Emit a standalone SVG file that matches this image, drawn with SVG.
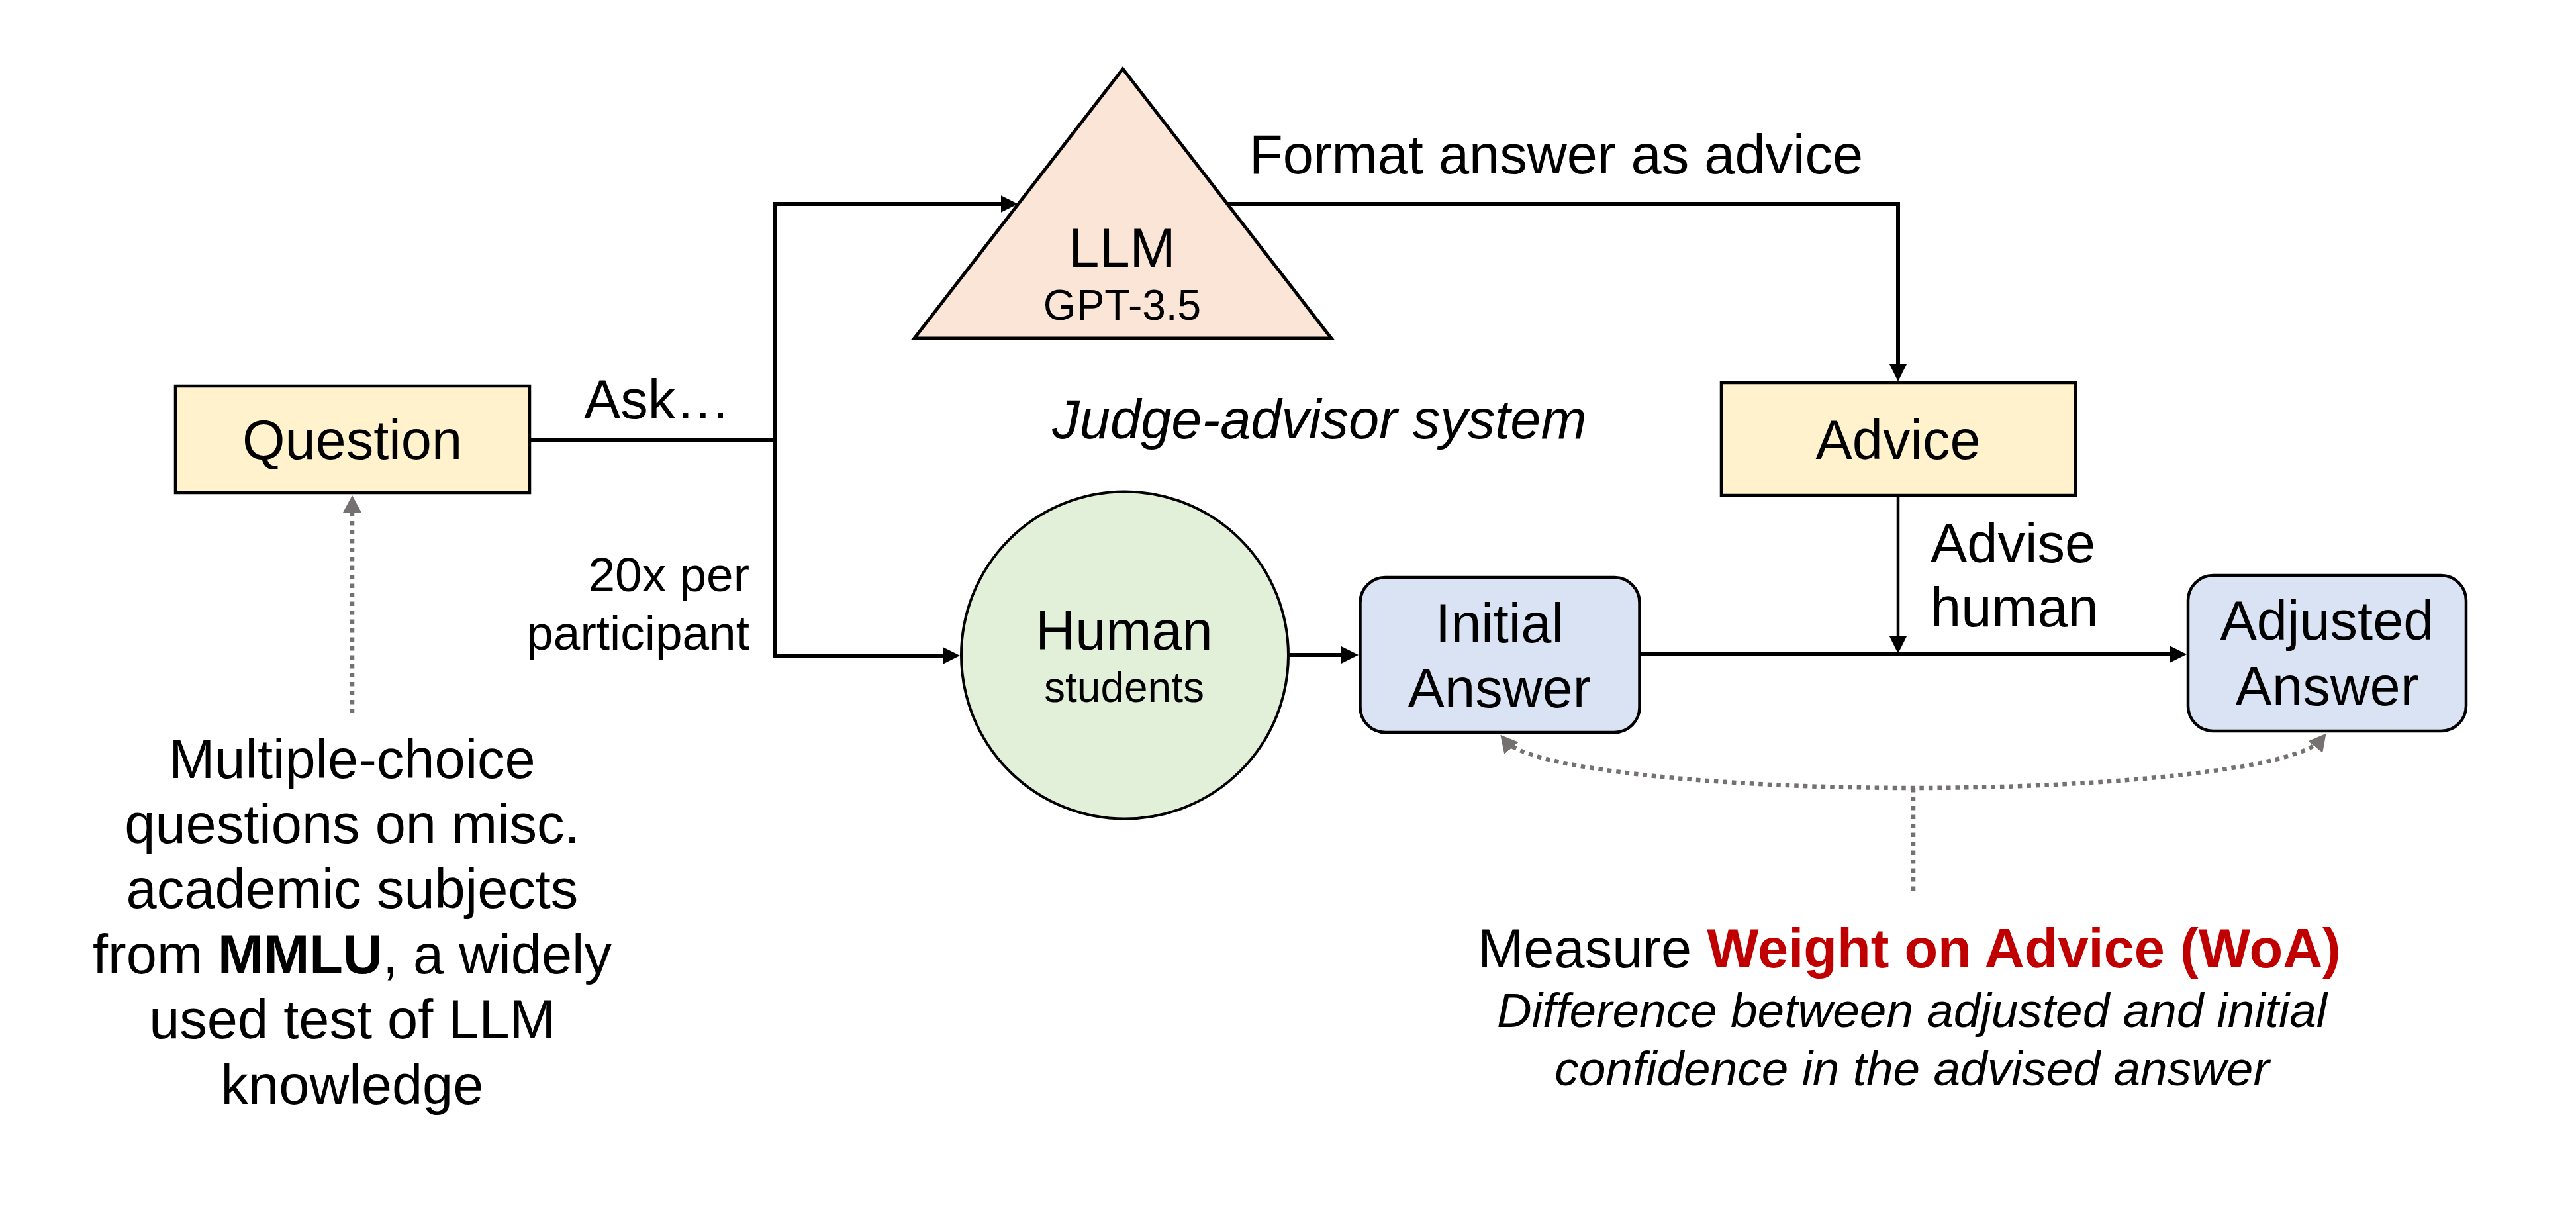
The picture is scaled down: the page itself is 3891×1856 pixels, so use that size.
<svg xmlns="http://www.w3.org/2000/svg" width="3891" height="1856" viewBox="0 0 3891 1856">
<style>
text{font-family:"Liberation Sans",Arial,Helvetica,sans-serif;fill:#000}
.big{font-size:83px}
.mid{font-size:73px}
.sm{font-size:64px}
.c{text-anchor:middle}
.e{text-anchor:end}
.it{font-style:italic}
.b{font-weight:bold}
.red{fill:#C00000}
.box{fill:#FFF2CC;stroke:#000;stroke-width:4.5}
.rbox{fill:#DAE3F3;stroke:#000;stroke-width:4.5}
.conn{fill:none;stroke:#000;stroke-width:6;stroke-linejoin:miter}
.thin{stroke-width:4.5}
.dot{fill:none;stroke:#767171;stroke-width:6.5;stroke-dasharray:6.5 7}
</style>
<defs>
<marker id="ah" markerUnits="userSpaceOnUse" markerWidth="26" markerHeight="26" refX="16" refY="13" orient="auto-start-reverse" viewBox="0 0 26 26">
<path d="M0,0 L26,13 L0,26 z" fill="#000"/>
</marker>
<marker id="gh" markerUnits="userSpaceOnUse" markerWidth="27" markerHeight="28" refX="14" refY="14" orient="auto-start-reverse" viewBox="0 0 27 28">
<path d="M0,0 L26,14 L0,28 z" fill="#767171"/>
</marker>
</defs>
<rect width="3891" height="1856" fill="#fff"/>

<g id="connectors">
<path class="conn" d="M802,664 H1171"/>
<path class="conn" d="M1527.5,308 H1171 V990 H1440" marker-start="url(#ah)" marker-end="url(#ah)"/>
<path class="conn" d="M1854,308 H2867 V566" marker-end="url(#ah)"/>
<path class="conn thin" d="M2867,750 V977" marker-end="url(#ah)"/>
<path class="conn" d="M1947,989 H2042" marker-end="url(#ah)"/>
<path class="conn" d="M2478,988 H3293" marker-end="url(#ah)"/>
<path class="dot" d="M532,1077 V760" marker-end="url(#gh)"/>
<path class="dot" d="M2274,1119 C2310,1162 2600,1190 2890,1190 C3180,1190 3470,1162 3506,1117" marker-start="url(#gh)" marker-end="url(#gh)"/>
<path class="dot" d="M2890,1190 V1345"/>
</g>

<g id="question">
<rect class="box" x="265" y="583" width="535" height="161"/>
<text class="big c" x="532" y="693">Question</text>
</g>

<g id="llm">
<polygon points="1696,104 2011,511 1381,511" fill="#FBE5D6" stroke="#000" stroke-width="5" stroke-linejoin="miter"/>
<text class="big c" x="1695" y="403">LLM</text>
<text class="sm c" x="1695" y="483">GPT-3.5</text>
</g>

<g id="advice">
<rect class="box" x="2600" y="578" width="535" height="170"/>
<text class="big c" x="2867" y="693">Advice</text>
</g>

<g id="human">
<circle cx="1699" cy="989.5" r="247" fill="#E2F0D9" stroke="#000" stroke-width="4"/>
<text class="big c" x="1698" y="981">Human</text>
<text class="sm c" x="1698" y="1060">students</text>
</g>

<g id="initial-answer">
<rect class="rbox" x="2054.5" y="872" width="422" height="234" rx="38" ry="38"/>
<text class="big c" x="2265" y="970">Initial</text>
<text class="big c" x="2265" y="1068">Answer</text>
</g>

<g id="adjusted-answer">
<rect class="rbox" x="3305" y="869" width="420" height="235" rx="38" ry="38"/>
<text class="big c" x="3515" y="966">Adjusted</text>
<text class="big c" x="3515" y="1065">Answer</text>
</g>

<g id="labels">
<text class="big" x="882" y="632">Ask…</text>
<text class="mid e" x="1132" y="893">20x per</text>
<text class="mid e" x="1132" y="981">participant</text>
<text class="big" x="1887" y="262">Format answer as advice</text>
<text class="big c it" x="1993" y="662">Judge-advisor system</text>
<text class="big" x="2916" y="849">Advise</text>
<text class="big" x="2916" y="946">human</text>
<text class="big c" x="532" y="1175">Multiple-choice</text>
<text class="big c" x="532" y="1273">questions on misc.</text>
<text class="big c" x="532" y="1371">academic subjects</text>
<text class="big c" x="532" y="1470">from <tspan class="b">MMLU</tspan>, a widely</text>
<text class="big c" x="532" y="1568">used test of LLM</text>
<text class="big c" x="532" y="1667">knowledge</text>
<text class="big c" x="2884" y="1461">Measure <tspan class="b red">Weight on Advice (WoA)</tspan></text>
<text class="mid c it" x="2888" y="1551">Difference between adjusted and initial</text>
<text class="mid c it" x="2888" y="1639">confidence in the advised answer</text>
</g>
</svg>
